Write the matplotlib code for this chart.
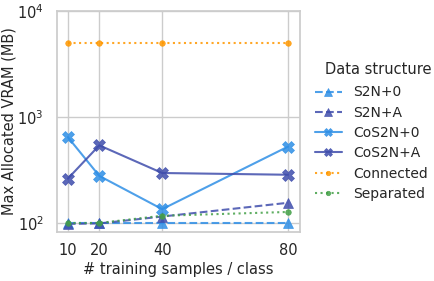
import matplotlib
matplotlib.use("Agg")
import matplotlib.pyplot as plt
import seaborn as sns

sns.set_theme(style="whitegrid")
plt.rcParams['font.family'] = ['DejaVu Sans']

samples = [10, 20, 40, 80]
s2n_0 = [100, 100, 100, 100]
s2n_a = [98, 99, 115, 155]
cos2n_0 = [645, 278, 135, 525]
cos2n_a = [262, 540, 296, 285]
connected = [5000, 5000, 5000, 5000]
separated = [100, 100, 117, 127]

series = [
    ("S2N+0", s2n_0, "#2f8fe6", "--", "^", 7),
    ("S2N+A", s2n_a, "#3f4dac", "--", "^", 7),
    ("CoS2N+0", cos2n_0, "#2f8fe6", "-", "X", 8),
    ("CoS2N+A", cos2n_a, "#3f4dac", "-", "X", 8),
    ("Connected", connected, "#ff9800", ":", "o", 4),
    ("Separated", separated, "#43a047", ":", "o", 4),
]

fig = plt.figure(figsize=(4.34, 2.81), dpi=100)
ax = fig.add_axes([0.131, 0.174, 0.56, 0.787])

for name, vals, col, ls, mk, ms in series:
    ax.plot(samples, vals, color=col, linestyle=ls, marker=mk, markersize=ms,
            linewidth=1.5, alpha=0.85, label=name, markeredgewidth=0.5)

ax.set_yscale("log")
ax.set_ylim(82, 10000)
ax.set_xlim(6.5, 83.8)
ax.set_xticks(samples)
ax.tick_params(labelsize=10.5)
ax.tick_params(axis="x", pad=2)
ax.set_xlabel("# training samples / class", fontsize=10.5, labelpad=2.5)
ax.set_ylabel("Max Allocated VRAM (MB)", fontsize=10.5, labelpad=0.5)
ax.minorticks_off()

# legend without title, title placed as text so it sits like the original
fig.legend(*ax.get_legend_handles_labels(), loc="upper left",
           bbox_to_anchor=(302 / 434, 1 - 73 / 281), frameon=False,
           fontsize=10, labelspacing=0.45, handlelength=2.0, markerscale=0.8)
fig.text(325 / 434, 1 - 70 / 281, "Data structure", fontsize=10.5,
         ha="left", va="center", color="#262626")

fig.savefig("out.png", dpi=100)
